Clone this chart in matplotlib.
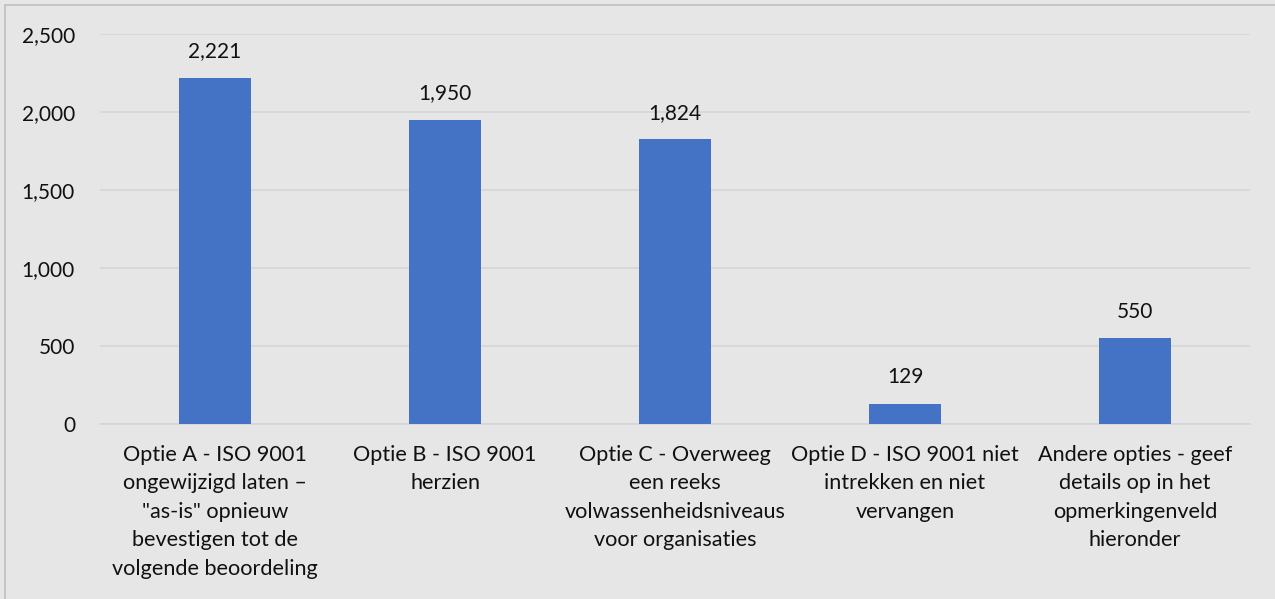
import matplotlib
matplotlib.use("Agg")
import matplotlib.pyplot as plt
from matplotlib.lines import Line2D

categories = [
    "Optie A - ISO 9001\nongewijzigd laten –\n\"as-is\" opnieuw\nbevestigen tot de\nvolgende beoordeling",
    "Optie B - ISO 9001\nherzien",
    "Optie C - Overweeg\neen reeks\nvolwassenheidsniveaus\nvoor organisaties",
    "Optie D - ISO 9001 niet\nintrekken en niet\nvervangen",
    "Andere opties - geef\ndetails op in het\nopmerkingenveld\nhieronder",
]
values = [2221, 1950, 1824, 129, 550]
yticks = [0, 500, 1000, 1500, 2000, 2500]

plt.rcParams['font.family'] = ['Lato', 'DejaVu Sans']
bg = '#E7E6E6'
W, H = 1275, 599
fs = 15
fig = plt.figure(figsize=(W / 100, H / 100), dpi=100, facecolor=bg)
ax = fig.add_axes([100 / W, 1 - 424 / H, 1150 / W, 390 / H])
ax.set_facecolor(bg)

x = list(range(len(values)))
bars = ax.bar(x, values, width=0.31, color='#4472C4', zorder=3)
ax.set_xlim(-0.5, len(values) - 0.5)
ax.set_ylim(0, 2500)
ax.set_yticks(yticks)
ax.set_yticklabels([f"{v:,}" for v in yticks], fontsize=fs, color='#111111')
ax.yaxis.grid(True, color='#D6D6D6', linewidth=1.2, zorder=0)
ax.set_xticks(x)
ax.set_xticklabels(categories, fontsize=15.6, color='#111111', linespacing=1.53, va='top')
ax.tick_params(axis='both', length=0)
ax.tick_params(axis='y', pad=18)
ax.tick_params(axis='x', pad=15)
for s in ['top', 'right', 'left']:
    ax.spines[s].set_visible(False)
ax.spines['bottom'].set_color('#D6D6D6')
ax.spines['bottom'].set_linewidth(1.2)

for xi, v in zip(x, values):
    ax.annotate(f"{v:,}", (xi, v), xytext=(0, 12), textcoords='offset points',
                ha='center', va='bottom', fontsize=fs, color='#111111')

# figure border (left and top visible)
fig.add_artist(Line2D([4.5 / W, 4.5 / W], [0, 1 - 4.5 / H], transform=fig.transFigure,
                      color='#BFBFBF', linewidth=1.2))
fig.add_artist(Line2D([4.5 / W, 1], [1 - 4.5 / H, 1 - 4.5 / H], transform=fig.transFigure,
                      color='#BFBFBF', linewidth=1.2))

fig.savefig('out.png', dpi=100, facecolor=bg)
